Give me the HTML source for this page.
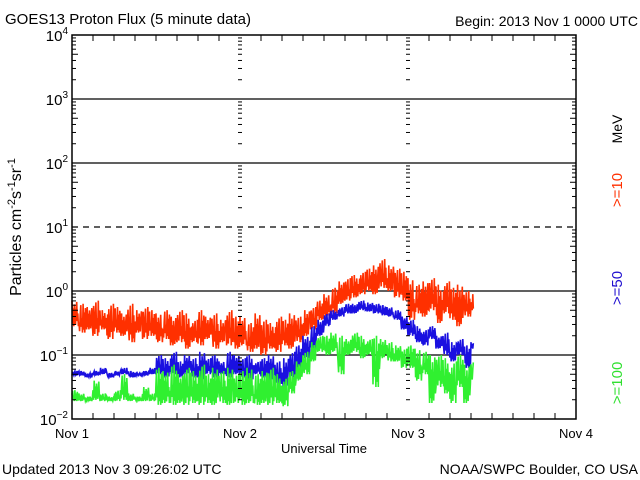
<!DOCTYPE html>
<html><head><meta charset="utf-8"><style>
body{margin:0;background:#fff;}
svg{display:block;font-family:"Liberation Sans",sans-serif;}
</style></head><body>
<svg id="chart" width="640" height="480" viewBox="0 0 640 480">
<rect width="640" height="480" fill="#fff"/>
<text x="5" y="24" font-size="15">GOES13 Proton Flux (5 minute data)</text>
<text x="638" y="26" font-size="14" text-anchor="end">Begin: 2013 Nov 1 0000 UTC</text>
<text x="2" y="474" font-size="14">Updated 2013 Nov  3 09:26:02 UTC</text>
<text x="638" y="474" font-size="14" text-anchor="end">NOAA/SWPC Boulder, CO USA</text>
<text x="324" y="453" font-size="13" text-anchor="middle">Universal Time</text>
<text transform="translate(21,227) rotate(-90)" font-size="16" text-anchor="middle">Particles cm<tspan dy="-6" font-size="11">-2</tspan><tspan dy="6">s</tspan><tspan dy="-6" font-size="11">-1</tspan><tspan dy="6">sr</tspan><tspan dy="-6" font-size="11">-1</tspan></text>
<text transform="translate(622,129) rotate(-90)" font-size="14" text-anchor="middle">MeV</text>
<text transform="translate(622,190) rotate(-90)" font-size="15" fill="#ff3000" text-anchor="middle">&gt;=10</text>
<text transform="translate(622,288) rotate(-90)" font-size="15" fill="#2010d0" text-anchor="middle">&gt;=50</text>
<text transform="translate(622,383) rotate(-90)" font-size="15" fill="#30e030" text-anchor="middle">&gt;=100</text>
<g id="grid"></g><g id="series"></g><g id="axes"></g>
</svg>
<script>
const dayLabels=["Nov 1","Nov 2","Nov 3","Nov 4"];
const decades=[-2,-1,0,1,2,3,4];
const redHi=[-0.15,-0.2,-0.25,-0.15,-0.3,-0.2,-0.25,-0.35,-0.2,-0.3,-0.25,-0.3,-0.35,-0.3,-0.4,-0.3,-0.35,-0.45,-0.3,-0.4,-0.35,-0.45,-0.3,-0.4,-0.4,-0.5,-0.35,-0.45,-0.5,-0.4,-0.45,-0.35,-0.4,-0.3,-0.25,-0.15,-0.05,0.05,0.15,0.2,0.25,0.3,0.35,0.4,0.5,0.4,0.35,0.3,0.2,0.1,0.15,0.2,0.1,0.15,0.05,0.1,0,-0.05];
const redLo=[-0.55,-0.65,-0.6,-0.7,-0.6,-0.75,-0.65,-0.7,-0.8,-0.65,-0.75,-0.7,-0.8,-0.75,-0.85,-0.8,-0.9,-0.8,-0.85,-0.75,-0.9,-0.8,-0.85,-0.9,-0.85,-0.95,-0.9,-1.0,-0.9,-0.95,-0.85,-0.9,-0.8,-0.7,-0.6,-0.45,-0.4,-0.35,-0.2,-0.15,-0.1,-0.05,0,-0.05,0.05,0,-0.1,-0.15,-0.45,-0.35,-0.4,-0.3,-0.5,-0.35,-0.45,-0.55,-0.4,-0.3];
const blueHi=[-1.25,-1.25,-1.28,-1.25,-1.2,-1.28,-1.25,-1.2,-1.25,-1.28,-1.25,-1.2,-1.0,-1.05,-0.95,-1.1,-1.0,-1.05,-0.95,-1.05,-1.0,-1.1,-0.95,-1.0,-1.05,-1.0,-1.1,-1.05,-1.0,-1.1,-1.05,-0.95,-0.85,-0.7,-0.55,-0.45,-0.35,-0.3,-0.25,-0.2,-0.2,-0.15,-0.18,-0.2,-0.22,-0.25,-0.3,-0.4,-0.45,-0.55,-0.6,-0.55,-0.7,-0.65,-0.8,-0.75,-0.85,-0.8];
const blueLo=[-1.32,-1.32,-1.35,-1.32,-1.3,-1.35,-1.32,-1.3,-1.35,-1.32,-1.32,-1.3,-1.3,-1.35,-1.3,-1.35,-1.3,-1.35,-1.4,-1.3,-1.35,-1.3,-1.35,-1.3,-1.35,-1.4,-1.3,-1.35,-1.4,-1.45,-1.5,-1.35,-1.2,-1.05,-0.9,-0.7,-0.55,-0.45,-0.4,-0.35,-0.35,-0.3,-0.32,-0.35,-0.38,-0.4,-0.45,-0.6,-0.7,-0.8,-0.85,-0.75,-0.9,-1.0,-1.1,-1.0,-1.2,-0.9];
const greenHi=[-1.55,-1.6,-1.65,-1.4,-1.6,-1.65,-1.55,-1.3,-1.6,-1.65,-1.5,-1.6,-1.2,-1.25,-1.15,-1.3,-1.2,-1.25,-1.15,-1.3,-1.2,-1.25,-1.2,-1.3,-1.25,-1.2,-1.3,-1.25,-1.2,-1.3,-1.35,-1.25,-1.1,-0.95,-0.8,-0.7,-0.7,-0.65,-0.7,-0.75,-0.65,-0.7,-0.75,-0.7,-0.75,-0.8,-0.85,-0.9,-0.85,-0.9,-0.95,-1.0,-1.0,-1.05,-1.1,-1.0,-1.15,-1.1];
const greenLo=[-1.72,-1.72,-1.72,-1.7,-1.72,-1.72,-1.72,-1.7,-1.72,-1.72,-1.72,-1.72,-1.78,-1.75,-1.78,-1.75,-1.78,-1.75,-1.78,-1.75,-1.78,-1.75,-1.78,-1.75,-1.78,-1.75,-1.78,-1.75,-1.78,-1.75,-1.8,-1.6,-1.4,-1.3,-1.1,-0.95,-1.0,-0.95,-1.3,-1.0,-0.95,-1.05,-1.0,-1.5,-1.05,-1.1,-1.1,-1.2,-1.2,-1.4,-1.3,-1.75,-1.5,-1.6,-1.75,-1.5,-1.75,-1.4];

const NS="http://www.w3.org/2000/svg";
const X0=72,X1=576,Y0=419,Y1=35;
const xs=h=>X0+(X1-X0)*h/72;
const ys=l=>Y0-(Y0-Y1)*(l+2)/6;
// fixed within-hour sampling pattern (fraction between lo and hi) — style only
const jitter=[1,0.1,0.7,0,0.85,0.35,0.05,0.6,0.95,0.2,0.5,0.0];
function mk(tag,attrs,parent){const e=document.createElementNS(NS,tag);for(const k in attrs)e.setAttribute(k,attrs[k]);parent.appendChild(e);return e;}
const grid=document.getElementById('grid'),axes=document.getElementById('axes'),ser=document.getElementById('series');

decades.forEach(d=>{
  const y=ys(d);
  if(d>-2&&d<4){
    const g=mk('line',{x1:X0,x2:X1,y1:y,y2:y,stroke:'#000','stroke-width':1.3},grid);
    if(d===1)g.setAttribute('stroke-dasharray','6,5');
    
    
  }
  const t=mk('text',{x:68,y:y+6,'font-size':15,'text-anchor':'end'},axes);
  
  
  t.innerHTML='10<tspan dy="-7" font-size="10">'+(d<0?'−'+(-d):d)+'</tspan>';
  if(d<4){for(let m=2;m<=9;m++){const yy=y-(Y0-Y1)/6*Math.log10(m);const L=m===5?6:4;
    [X0,X1].forEach((xx,i)=>{mk('line',{x1:xx,x2:i?xx-L:xx+L,y1:yy,y2:yy,stroke:'#000'},axes);});
    [xs(24),xs(48)].forEach(xx=>{mk('line',{x1:xx-2,x2:xx+2,y1:yy,y2:yy,stroke:'#000'},axes);});
  }}
});
const frame=mk('rect',{x:X0,y:Y1,width:X1-X0,height:Y0-Y1,fill:'none',stroke:'#000','stroke-width':1.5},axes);


for(let h=3;h<72;h+=3){const x=xs(h);const L=h%24===0?0:6;
  mk('line',{x1:x,x2:x,y1:Y0,y2:Y0-L,stroke:'#000'},axes);mk('line',{x1:x,x2:x,y1:Y1,y2:Y1+L,stroke:'#000'},axes);}
dayLabels.forEach((s,i)=>{const t=mk('text',{x:xs(i*24),y:438,'font-size':13,'text-anchor':'middle'},axes);t.textContent=s;
  
  });

function series(hi,lo,color,name,off){
  let pts=[];const n=jitter.length;
  for(let i=0;i<hi.length;i++){
    for(let k=0;k<n;k++){
      const f=jitter[(k+off+i*5)%n];
      pts.push([i+k/n,lo[i]+(hi[i]-lo[i])*f]);
    }
  }
  const d=pts.filter(p=>p[0]<=57.4).map((p,j)=>(j?'L':'M')+xs(p[0]).toFixed(1)+','+ys(p[1]).toFixed(1)).join('');
  const p=mk('path',{d:d,fill:'none',stroke:color,'stroke-width':1.6},ser);
  
  
}
series(redHi,redLo,'#ff3000','series-ge10',0);
series(blueHi,blueLo,'#1a10e0','series-ge50',3);
series(greenHi,greenLo,'#30f030','series-ge100',7);
</script>
</body></html>
